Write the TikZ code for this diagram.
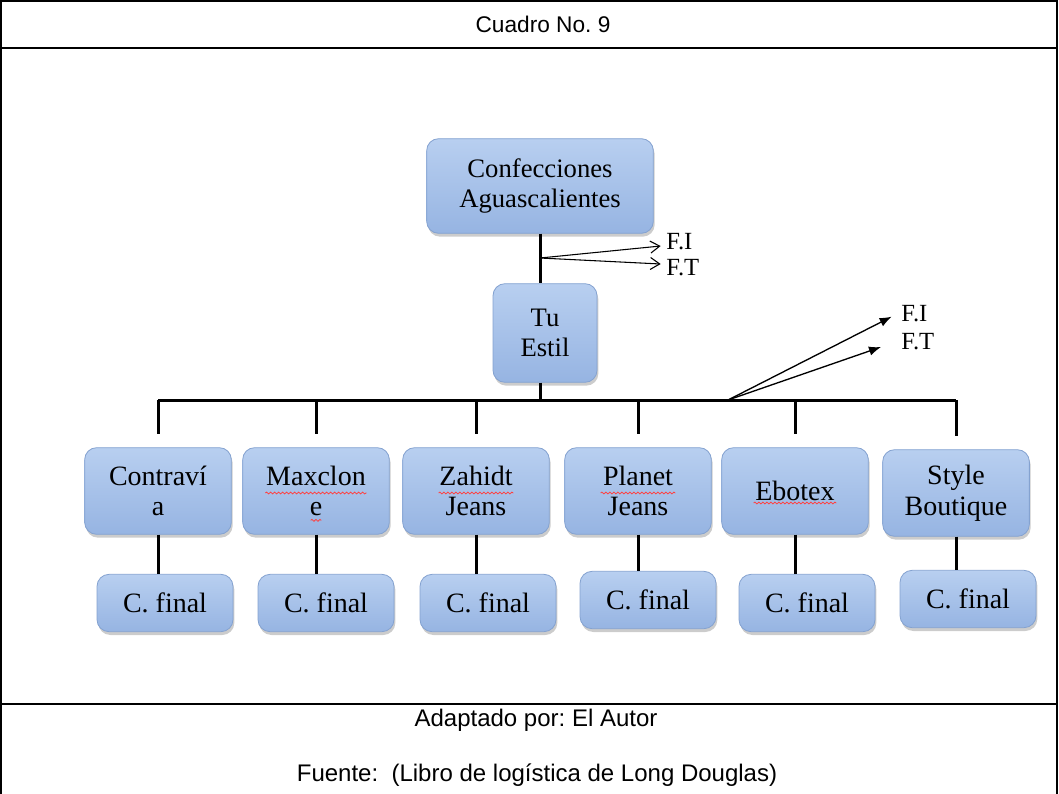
\documentclass[tikz,border=0pt]{standalone}
\usepackage{fontspec}
\setmainfont{Liberation Serif}
\newfontfamily\arialfont{Liberation Sans}
\usetikzlibrary{positioning, shadows, arrows.meta, decorations.pathmorphing}

\definecolor{boxtop}{RGB}{184,207,240}
\definecolor{boxbot}{RGB}{150,180,226}
\definecolor{boxedge}{RGB}{132,162,208}

\frenchspacing

\begin{document}
\begin{tikzpicture}[x=0.75pt, y=-0.75pt]
    % Styles
    \tikzset{
        org/.style={rectangle, draw=boxedge, line width=0.6pt, rounded corners=9pt, top color=boxtop, bottom color=boxbot, drop shadow={shadow xshift=1pt, shadow yshift=-2.5pt, opacity=0.4}, align=center, inner sep=2pt, font=\fontsize{20}{23}\selectfont},
        store/.style={org, minimum width=110pt, minimum height=65pt, font=\fontsize{21}{23}\selectfont},
        final/.style={org, minimum width=102pt, minimum height=43pt, font=\fontsize{21}{23}\selectfont},
        flow_text/.style={inner sep=0pt, anchor=west, font=\fontsize{18.5}{20}\selectfont},
        caption/.style={font=\arialfont\fontsize{18}{20}\selectfont},
        frame/.style={line width=1.5pt},
        trunk/.style={line width=2.25pt},
        open_arrow/.style={-{Straight Barb[length=7pt, width=9pt]}, line width=0.8pt},
        solid_arrow/.style={-{Latex[length=9pt, width=7pt]}, line width=1pt},
        spell_mark/.style={draw=red!75, line width=0.6pt, decorate, decoration={snake, amplitude=0.7pt, segment length=3pt}}
    }

    \useasboundingbox (0,0) rectangle (1059,793);

    % --- Frame ---
    \draw[frame] (1,795) -- (1,1) -- (1057,1) -- (1057,795);
    \draw[frame] (1,48) -- (1057,48);
    \draw[frame] (1,704) -- (1057,704);
    \node[caption, font=\arialfont\fontsize{17}{20}\selectfont] (titulo) at (543,24) {Cuadro No. 9};
    \node[caption] (adaptado) at (536,720) {Adaptado por: El Autor};
    \node[caption] (fuente) at (537,775) {Fuente:~~(Libro de logística de Long Douglas)};

    % --- Nodes ---

    % Top: manufacturer
    \node[org, minimum width=170pt, minimum height=71pt] (aguas) at (540,186) {Confecciones\\Aguascalientes};

    % Distributor
    \node[org, minimum width=78pt, minimum height=74pt] (estil) at (545,333) {Tu\\Estil};

    % Retail stores
    \node[store] (contravia) at (158,491) {Contraví\\a};
    \node[store] (maxclone) at (316,491) {Maxclon\\e};
    \node[store] (zahidt) at (476,491) {Zahidt\\Jeans};
    \node[store] (planet) at (638,491) {Planet\\Jeans};
    \node[store] (ebotex) at (795,491) {Ebotex};
    \node[store] (style) at (956,493) {Style\\Boutique};

    % Final customers
    \node[final] (cf_contravia) at (165,603) {C. final};
    \node[final] (cf_maxclone) at (326,603) {C. final};
    \node[final] (cf_zahidt) at (488,603) {C. final};
    \node[final] (cf_planet) at (648,600) {C. final};
    \node[final] (cf_ebotex) at (807,603) {C. final};
    \node[final] (cf_style) at (968,599) {C. final};

    % Flow labels
    \node[flow_text] (fi_top) at (666,242) {F.I};
    \node[flow_text] (ft_top) at (666,268) {F.T};
    \node[flow_text] (fi_bar) at (901,314) {F.I};
    \node[flow_text] (ft_bar) at (901,342) {F.T};

    % Spell-check marks
    \draw[spell_mark] ([xshift=-38pt, yshift=-1.5pt]maxclone.center) -- ++(76pt,0);
    \draw[spell_mark] ([xshift=-4pt, yshift=-22pt]maxclone.center) -- ++(8pt,0);
    \draw[spell_mark] ([xshift=-28pt, yshift=-1.5pt]zahidt.center) -- ++(56pt,0);
    \draw[spell_mark] ([xshift=-28pt, yshift=-1.5pt]planet.center) -- ++(56pt,0);
    \draw[spell_mark] ([xshift=-31pt, yshift=-9pt]ebotex.center) -- ++(62pt,0);

    % --- Connections ---

    \coordinate (bar) at (545,400);
    \coordinate (fork_top) at (540,258);
    \coordinate (fork_bar) at (728,400);

    % Trunk through the distributor
    \draw[trunk] (aguas.south) -- (aguas.south |- estil.north);
    \draw[trunk] (aguas.south |- estil.south) -- (aguas.south |- bar);

    % Bar and ticks to the stores
    \draw[trunk] (contravia.north |- bar) -- (style.north |- bar);
    \foreach \shop in {contravia, maxclone, zahidt, planet, ebotex, style}
        \draw[trunk] (\shop.north |- bar) -- ([yshift=10pt]\shop.north);

    % Stores to final customers
    \foreach \shop in {contravia, maxclone, zahidt, planet, ebotex, style}
        \draw[trunk] (\shop.south) -- (\shop.south |- cf_\shop.north);

    % Information and transport flows
    \draw[open_arrow] (fork_top) -- ([xshift=-4pt, yshift=-3pt]fi_top.west);
    \draw[open_arrow] (fork_top) -- ([xshift=-4pt, yshift=3pt]ft_top.west);
    \draw[solid_arrow] (fork_bar) -- ([xshift=-7pt, yshift=-2pt]fi_bar.west);
    \draw[solid_arrow] (fork_bar) -- ([xshift=-15pt, yshift=-3.75pt]ft_bar.west);

\end{tikzpicture}
\end{document}
